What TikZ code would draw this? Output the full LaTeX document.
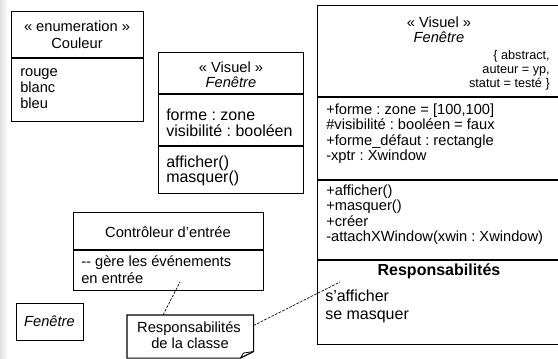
\documentclass[tikz,border=0pt]{standalone}
\usepackage{fontspec}
\setmainfont{Liberation Sans}
\usetikzlibrary{positioning}
\frenchspacing
\newcommand{\myunit}{0.75pt}
\newcommand{\txtfont}{\fontsize{11}{13}\selectfont}
\tikzset{
    boxsty/.style={draw, line width=0.8pt, rectangle, anchor=north west, inner sep=0pt},
    lftsty/.style={anchor=base west, inner sep=0pt, font=\txtfont},
    ctrsty/.style={anchor=base, inner sep=0pt, font=\txtfont},
    cnssty/.style={anchor=base east, inner sep=0pt, font=\fontsize{9.5}{11}\selectfont},
    respsty/.style={anchor=base west, inner sep=0pt, font=\fontsize{12}{14}\selectfont},
    notesty/.style={rectangle, anchor=north west, inner sep=0pt},
    linksty/.style={line width=0.5pt, dash pattern=on 2pt off 1pt},
}

\begin{document}
\begin{tikzpicture}[x=\myunit, y=-\myunit]
\useasboundingbox (0,0) rectangle (558,358);
\shade[left color=black!12, right color=white] (0,0) rectangle (8,358);

% enumeration Couleur
\node[boxsty, minimum width=132*\myunit, minimum height=46*\myunit] (couleurhd) at (11,11) {};
\node[boxsty, minimum width=132*\myunit, minimum height=63*\myunit] (couleurbd) at (couleurhd.south west) {};
\node[ctrsty] (couleurst) at (77,31) {« enumeration »};
\node[ctrsty] (couleurnm) at (77,48) {Couleur};
\node[lftsty] (couleura) at (20,76) {rouge};
\node[lftsty] (couleurb) at (20,92) {blanc};
\node[lftsty] (couleurc) at (20,108) {bleu};

% Fenetre, forme courte
\node[boxsty, minimum width=145*\myunit, minimum height=41*\myunit] (fenahd) at (158,52) {};
\node[boxsty, minimum width=145*\myunit, minimum height=51*\myunit] (fenaat) at (fenahd.south west) {};
\node[boxsty, minimum width=145*\myunit, minimum height=47*\myunit] (fenaop) at (fenaat.south west) {};
\node[ctrsty] (fenast) at (231,72) {« Visuel »};
\node[ctrsty] (fenanm) at (231,87) {\itshape Fenêtre};
\node[respsty] (fenaat1) at (166,120) {forme : zone};
\node[respsty] (fenaat2) at (166,136) {visibilité : booléen};
\node[respsty] (fenaop1) at (166,167) {afficher()};
\node[respsty] (fenaop2) at (166,182.5) {masquer()};

% Fenetre, forme complete
\node[boxsty, minimum width=248*\myunit, minimum height=91*\myunit] (fenbhd) at (317,5) {};
\node[boxsty, minimum width=248*\myunit, minimum height=82*\myunit] (fenbat) at (fenbhd.south west) {};
\node[boxsty, minimum width=248*\myunit, minimum height=79*\myunit] (fenbop) at (fenbat.south west) {};
\node[boxsty, minimum width=248*\myunit, minimum height=84*\myunit] (fenbrs) at (fenbop.south west) {};
\node[ctrsty] (fenbst) at (439,27) {« Visuel »};
\node[ctrsty] (fenbnm) at (439,42) {\itshape Fenêtre};
\node[cnssty] (fenbcs1) at (550,59) {\{ abstract,};
\node[cnssty] (fenbcs2) at (550,73) {auteur = yp,};
\node[cnssty] (fenbcs3) at (550,87) {statut = testé \}};
\node[lftsty] (fenbat1) at (326,114) {+forme : zone = [100,100]};
\node[lftsty] (fenbat2) at (326,129.5) {\#visibilité : booléen = faux};
\node[lftsty] (fenbat3) at (326,145) {+forme\_défaut : rectangle};
\node[lftsty] (fenbat4) at (326,160.5) {-xptr : Xwindow};
\node[lftsty] (fenbop1) at (326,195) {+afficher()};
\node[lftsty] (fenbop2) at (326,210.5) {+masquer()};
\node[lftsty] (fenbop3) at (326,226) {+créer};
\node[lftsty] (fenbop4) at (326,241.5) {-attachXWindow(xwin : Xwindow)};
\node[ctrsty, font=\fontsize{12}{14}\selectfont\bfseries] (fenbrsh) at (439,275) {Responsabilités};
\node[respsty] (fenbrs1) at (325,301) {s’afficher};
\node[respsty] (fenbrs2) at (325,319) {se masquer};

% Controleur
\node[boxsty, minimum width=190*\myunit, minimum height=37*\myunit] (ctrlhd) at (73,212) {};
\node[boxsty, minimum width=190*\myunit, minimum height=40*\myunit] (ctrlbd) at (ctrlhd.south west) {};
\node[ctrsty] (ctrlnm) at (168,237) {Contrôleur d’entrée};
\node[lftsty] (ctrlbd1) at (81,266) {-{}- gère les événements};
\node[lftsty] (ctrlbd2) at (81,283) {en entrée};

% Fenetre, forme reduite
\node[boxsty, minimum width=67*\myunit, minimum height=37*\myunit] (fenc) at (16,303) {};
\node[ctrsty] (fencnm) at (49.5,326) {\itshape Fenêtre};

% note
\node[notesty, minimum width=126*\myunit, minimum height=42.5*\myunit] (note) at (127,315) {};
\draw[line width=0.8pt] (note.north west) -- (note.north east) -- ([yshift=6.5*\myunit]note.south east)
  -- ([xshift=-13*\myunit]note.south east) -- (note.south west) -- cycle;
\draw[line width=0.6pt] ([yshift=6.5*\myunit]note.south east) -- ([xshift=-10*\myunit,yshift=5*\myunit]note.south east)
  -- ([xshift=-13*\myunit]note.south east);
\node[ctrsty] (note1) at (189,332) {Responsabilités};
\node[ctrsty] (note2) at (190,348) {de la classe};

\coordinate (ctrlpt) at (180,282);
\coordinate (resppt) at (340,282);
\draw[linksty] ([xshift=36*\myunit]note.north west) -- (ctrlpt);
\draw[linksty] ([yshift=-10.5*\myunit]note.north east) -- (resppt);

\end{tikzpicture}
\end{document}
